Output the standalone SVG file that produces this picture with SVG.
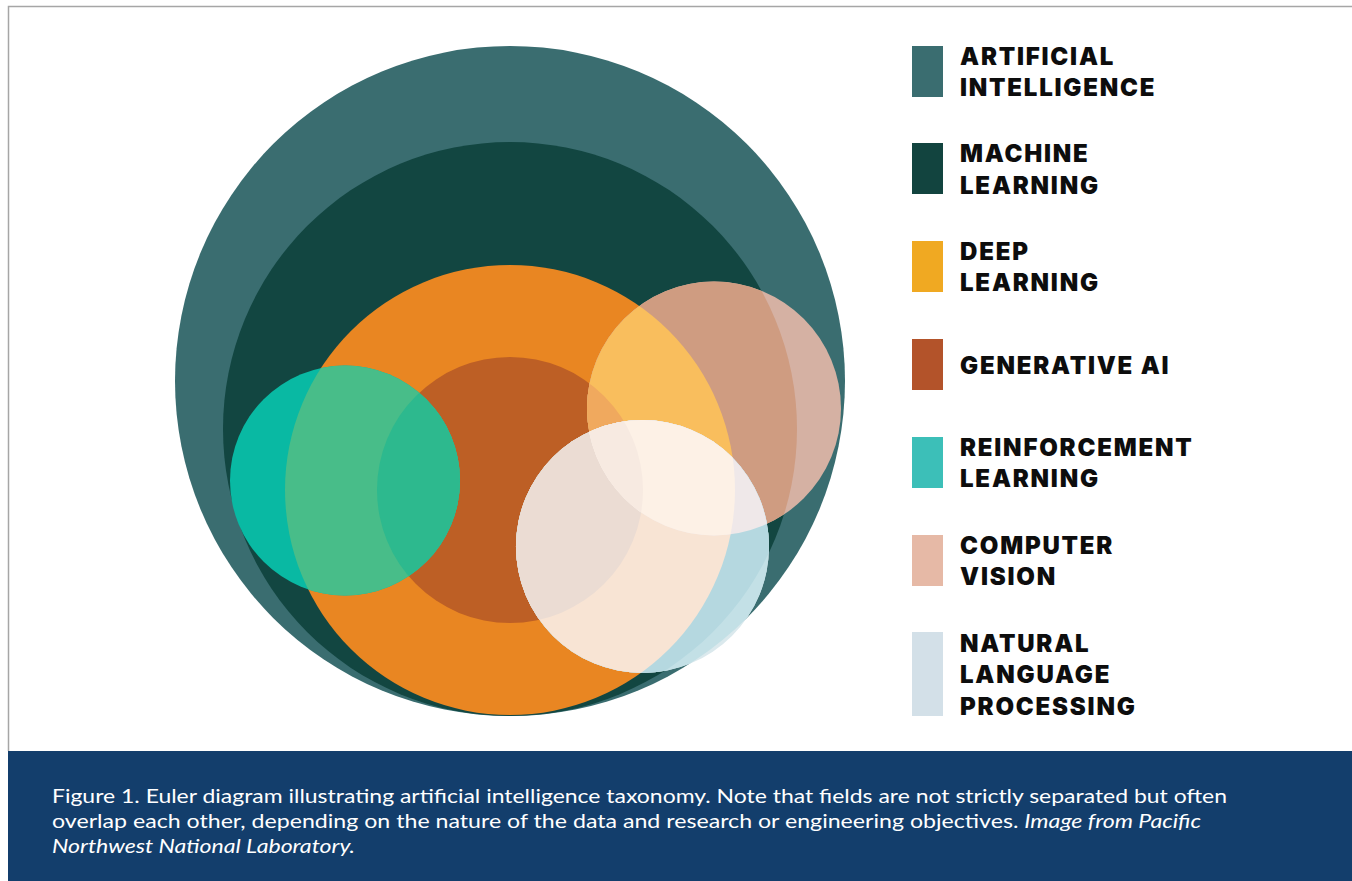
<svg xmlns="http://www.w3.org/2000/svg" width="1352" height="881" viewBox="0 0 1352 881">
  <style>
    .legend { font-family: Inter, "Liberation Sans", sans-serif; font-weight: 900; font-size: 24px; letter-spacing: 1.8px; fill: #0d0d0d; }
    .caption { font-family: Lato, "Liberation Sans", sans-serif; font-size: 20px; fill: #ffffff; }
    .caption .it { font-style: italic; }
  </style>
  <defs>
    <!-- circle outlines reused to paint the overlap regions -->
    <circle id="c-ai" cx="510" cy="381" r="335"/>
    <circle id="c-ml" cx="510" cy="429" r="287"/>
    <circle id="c-dl" cx="510" cy="490" r="225"/>
    <circle id="c-gen" cx="510" cy="490" r="133"/>
    <circle id="c-rl" cx="345" cy="480.5" r="115"/>
    <circle id="c-cv" cx="714" cy="408.5" r="127"/>
    <circle id="c-nlp" cx="642.5" cy="546.5" r="126.5"/>
    <clipPath id="clip-ai"><use href="#c-ai"/></clipPath>
    <clipPath id="clip-ml"><use href="#c-ml"/></clipPath>
    <clipPath id="clip-dl"><use href="#c-dl"/></clipPath>
    <clipPath id="clip-gen"><use href="#c-gen"/></clipPath>
    <clipPath id="clip-cv"><use href="#c-cv"/></clipPath>
  </defs>

  <!-- page frame and caption band -->
  <rect x="0" y="0" width="1352" height="881" fill="#ffffff"/>
  <path d="M8.5 751 V6.5 H1352" fill="none" stroke="#a6a6a6" stroke-width="1.5"/>
  <rect x="8" y="751" width="1344" height="130" fill="#133e6c"/>

  <!-- Euler diagram -->
  <g id="artificial-intelligence"><use href="#c-ai" fill="#3a6d70"/></g>
  <g id="machine-learning"><use href="#c-ml" fill="#124641"/></g>
  <g id="deep-learning"><use href="#c-dl" fill="#e98622"/></g>
  <g id="generative-ai"><use href="#c-gen" fill="#bd5f25"/></g>

  <g id="reinforcement-learning">
    <use href="#c-rl" fill="#09b9a3"/>
    <use href="#c-rl" fill="#48bd89" clip-path="url(#clip-dl)"/>
    <use href="#c-rl" fill="#2db98e" clip-path="url(#clip-gen)"/>
  </g>

  <g id="computer-vision">
    <use href="#c-cv" fill="#d5b1a3"/>
    <use href="#c-cv" fill="#cf9c81" clip-path="url(#clip-ml)"/>
    <use href="#c-cv" fill="#f9be5d" clip-path="url(#clip-dl)"/>
    <use href="#c-cv" fill="#f0a95e" clip-path="url(#clip-gen)"/>
  </g>

  <g id="natural-language-processing">
    <use href="#c-nlp" fill="#dbe9ed"/>
    <use href="#c-nlp" fill="#c3e0e6" clip-path="url(#clip-ai)"/>
    <use href="#c-nlp" fill="#b5d8e0" clip-path="url(#clip-ml)"/>
    <use href="#c-nlp" fill="#f8e4d4" clip-path="url(#clip-dl)"/>
    <use href="#c-nlp" fill="#ebdcd3" clip-path="url(#clip-gen)"/>
    <g clip-path="url(#clip-cv)">
      <use href="#c-nlp" fill="#efe8e9"/>
      <use href="#c-nlp" fill="#fdf1e6" clip-path="url(#clip-dl)"/>
      <use href="#c-nlp" fill="#f7eae1" clip-path="url(#clip-gen)"/>
    </g>
  </g>

  <!-- legend -->
  <g id="legend-ai">
    <rect x="912" y="46" width="31" height="51" fill="#3a6d70"/>
    <text class="legend" x="960" y="64.5">ARTIFICIAL</text>
    <text class="legend" x="960" y="96">INTELLIGENCE</text>
  </g>
  <g id="legend-ml">
    <rect x="912" y="143" width="31" height="51" fill="#12443f"/>
    <text class="legend" x="960" y="162">MACHINE</text>
    <text class="legend" x="960" y="193.5">LEARNING</text>
  </g>
  <g id="legend-dl">
    <rect x="912" y="241" width="31" height="51" fill="#f0a922"/>
    <text class="legend" x="960" y="259.5">DEEP</text>
    <text class="legend" x="960" y="291">LEARNING</text>
  </g>
  <g id="legend-gen">
    <rect x="912" y="339" width="31" height="51" fill="#b3532a"/>
    <text class="legend" x="960" y="374">GENERATIVE AI</text>
  </g>
  <g id="legend-rl">
    <rect x="912" y="437" width="31" height="51" fill="#3cbfb8"/>
    <text class="legend" x="960" y="455.5">REINFORCEMENT</text>
    <text class="legend" x="960" y="487">LEARNING</text>
  </g>
  <g id="legend-cv">
    <rect x="912" y="535" width="31" height="51" fill="#e6b9a6"/>
    <text class="legend" x="960" y="553.5">COMPUTER</text>
    <text class="legend" x="960" y="585">VISION</text>
  </g>
  <g id="legend-nlp">
    <rect x="912" y="632" width="31" height="84" fill="#d3e0e8"/>
    <text class="legend" x="960" y="651.5">NATURAL</text>
    <text class="legend" x="960" y="683">LANGUAGE</text>
    <text class="legend" x="960" y="715">PROCESSING</text>
  </g>

  <!-- caption -->
  <g id="caption">
    <text class="caption" x="52" y="803" textLength="1175" lengthAdjust="spacingAndGlyphs">Figure 1. Euler diagram illustrating artificial intelligence taxonomy. Note that fields are not strictly separated but often</text>
    <text class="caption" x="52" y="828" textLength="1149" lengthAdjust="spacingAndGlyphs">overlap each other, depending on the nature of the data and research or engineering objectives. <tspan class="it">Image from Pacific</tspan></text>
    <text class="caption" x="52" y="853" textLength="303" lengthAdjust="spacingAndGlyphs"><tspan class="it">Northwest National Laboratory.</tspan></text>
  </g>
</svg>
